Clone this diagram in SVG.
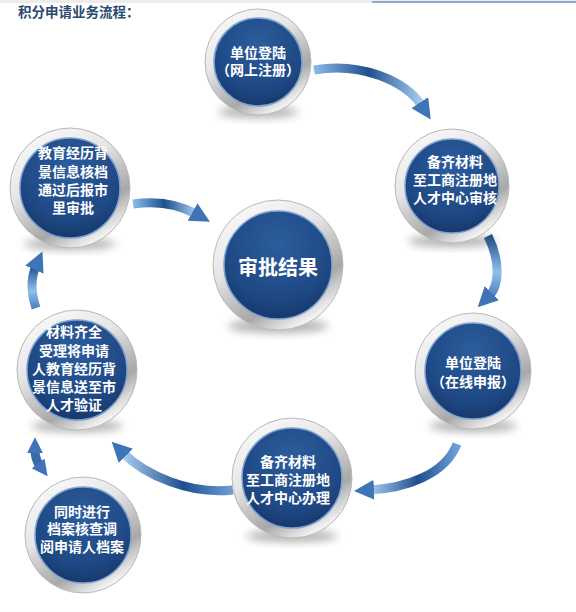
<svg xmlns="http://www.w3.org/2000/svg" width="576" height="612" viewBox="0 0 576 612">
<defs>
<style>
.t{font-family:"Liberation Sans","Noto Sans CJK SC",sans-serif;font-weight:bold;fill:#fff;font-size:14px;text-anchor:middle}
.ring{fill:url(#ringG);stroke:#b8b8b8;stroke-width:1}
.inner{fill:url(#blueG);stroke:#7fa2d0;stroke-width:1.5}
.shadow{fill:#555;opacity:0.45;filter:url(#blur)}
.arr{fill:none;stroke-width:9;stroke-linecap:butt}
</style>
<linearGradient id="ringG" x1="0" y1="0" x2="0.6" y2="1">
<stop offset="0" stop-color="#ffffff"/>
<stop offset="0.45" stop-color="#e6e6e6"/>
<stop offset="0.8" stop-color="#a8a8a8"/>
<stop offset="1" stop-color="#f2f2f2"/>
</linearGradient>
<radialGradient id="blueG" cx="0.5" cy="0.3" r="0.8">
<stop offset="0" stop-color="#2c5d9c"/>
<stop offset="0.65" stop-color="#1e4884"/>
<stop offset="1" stop-color="#12305f"/>
</radialGradient>
<linearGradient id="ah" x1="0" y1="0" x2="1" y2="0">
<stop offset="0" stop-color="#8bbbe8"/>
<stop offset="0.5" stop-color="#1f4f8f"/>
<stop offset="1" stop-color="#a6cdef"/>
</linearGradient>
<linearGradient id="av" x1="0" y1="0" x2="0" y2="1">
<stop offset="0" stop-color="#1f4f8f"/>
<stop offset="0.6" stop-color="#8fc0ec"/>
<stop offset="1" stop-color="#4d80c0"/>
</linearGradient>
<linearGradient id="ahr" x1="1" y1="0" x2="0" y2="0">
<stop offset="0" stop-color="#6d9fd8"/>
<stop offset="0.45" stop-color="#1f4f8f"/>
<stop offset="1" stop-color="#a6cdef"/>
</linearGradient>
<filter id="blur" x="-50%" y="-50%" width="200%" height="200%"><feGaussianBlur stdDeviation="4"/></filter>
<marker id="head" viewBox="0 0 20 20" refX="4" refY="10" markerWidth="20" markerHeight="20" markerUnits="userSpaceOnUse" orient="auto-start-reverse">
<path d="M0,0 L20,10 L0,20 z" fill="#3f74b6"/>
</marker>
<marker id="headS" viewBox="0 0 20 20" refX="4" refY="10" markerWidth="16" markerHeight="16" markerUnits="userSpaceOnUse" orient="auto-start-reverse">
<path d="M0,0 L20,10 L0,20 z" fill="#3f74b6"/>
</marker>
</defs>

<rect x="0" y="0" width="576" height="3" fill="#ececec"/>
<rect x="372" y="1" width="204" height="2" fill="#8fa9cc"/>
<text x="18" y="17" style="font-family:'Liberation Sans','Noto Sans CJK SC',sans-serif;font-weight:bold;font-size:13.5px;fill:#2b4870">积分申请业务流程：</text>

<g id="connectors">
<path class="arr" stroke="url(#ah)" d="M314,70 C360,62 405,80 422,106" marker-end="url(#head)"/>
<path class="arr" stroke="url(#av)" d="M488,236 C500,260 500,285 489,296" marker-end="url(#head)"/>
<path class="arr" stroke="url(#ahr)" d="M457,444 C445,475 405,488 370,490" marker-end="url(#head)"/>
<path class="arr" stroke="url(#ahr)" d="M233,490 C190,495 145,475 123,453" marker-end="url(#head)"/>
<path class="arr" stroke="#3a6aa8" stroke-width="8" fill="none" d="M35,450 C35,458 37,462 40,466" marker-start="url(#headS)" marker-end="url(#headS)"/>
<path class="arr" stroke="url(#av)" d="M36,308 C30,290 32,275 36,266" marker-end="url(#head)"/>
<path class="arr" stroke="url(#ah)" d="M133,204 C160,200 180,205 196,214" marker-end="url(#head)"/>
</g>

<g id="n1">
<ellipse class="shadow" cx="258" cy="112" rx="40" ry="6"/>
<circle class="ring" cx="258" cy="62" r="53"/>
<circle class="inner" cx="258" cy="62" r="44"/>
<text class="t" x="258" y="58">单位登陆</text>
<text class="t" x="258" y="75">（网上注册）</text>
</g>

<g id="n2">
<ellipse class="shadow" cx="452" cy="241" rx="44" ry="6"/>
<circle class="ring" cx="452" cy="186" r="57"/>
<circle class="inner" cx="452" cy="186" r="47"/>
<text class="t" x="455" y="167">备齐材料</text>
<text class="t" x="455" y="185">至工商注册地</text>
<text class="t" x="455" y="203">人才中心审核</text>
</g>

<g id="n3">
<ellipse class="shadow" cx="473" cy="426" rx="44" ry="6"/>
<circle class="ring" cx="473" cy="371" r="58"/>
<circle class="inner" cx="473" cy="371" r="48"/>
<text class="t" x="473" y="368">单位登陆</text>
<text class="t" x="473" y="387">（在线申报）</text>
</g>

<g id="n4">
<ellipse class="shadow" cx="292" cy="536" rx="46" ry="6"/>
<circle class="ring" cx="292" cy="478" r="60"/>
<circle class="inner" cx="292" cy="478" r="50"/>
<text class="t" x="288" y="467">备齐材料</text>
<text class="t" x="288" y="485">至工商注册地</text>
<text class="t" x="288" y="503">人才中心办理</text>
</g>

<g id="n5">
<circle class="ring" cx="83" cy="535" r="58"/>
<circle class="inner" cx="83" cy="535" r="48"/>
<text class="t" x="82" y="517">同时进行</text>
<text class="t" x="82" y="534">档案核查调</text>
<text class="t" x="82" y="552">阅申请人档案</text>
</g>

<g id="n6">
<ellipse class="shadow" cx="77" cy="426" rx="46" ry="6"/>
<circle class="ring" cx="77" cy="370" r="60"/>
<circle class="inner" cx="77" cy="370" r="50"/>
<text class="t" x="74" y="337">材料齐全</text>
<text class="t" x="74" y="356">受理将申请</text>
<text class="t" x="74" y="374">人教育经历背</text>
<text class="t" x="74" y="392">景信息送至市</text>
<text class="t" x="74" y="410">人才验证</text>
</g>

<g id="n7">
<ellipse class="shadow" cx="70" cy="244" rx="46" ry="6"/>
<circle class="ring" cx="70" cy="188" r="60"/>
<circle class="inner" cx="70" cy="188" r="50"/>
<text class="t" x="73" y="158">教育经历背</text>
<text class="t" x="73" y="177">景信息核档</text>
<text class="t" x="73" y="195">通过后报市</text>
<text class="t" x="73" y="213">里审批</text>
</g>

<g id="center">
<ellipse class="shadow" cx="278" cy="326" rx="50" ry="7"/>
<circle class="ring" cx="278" cy="265" r="65"/>
<circle class="inner" cx="278" cy="265" r="54"/>
<text class="t" x="278" y="275" style="font-size:20px">审批结果</text>
</g>
</svg>
